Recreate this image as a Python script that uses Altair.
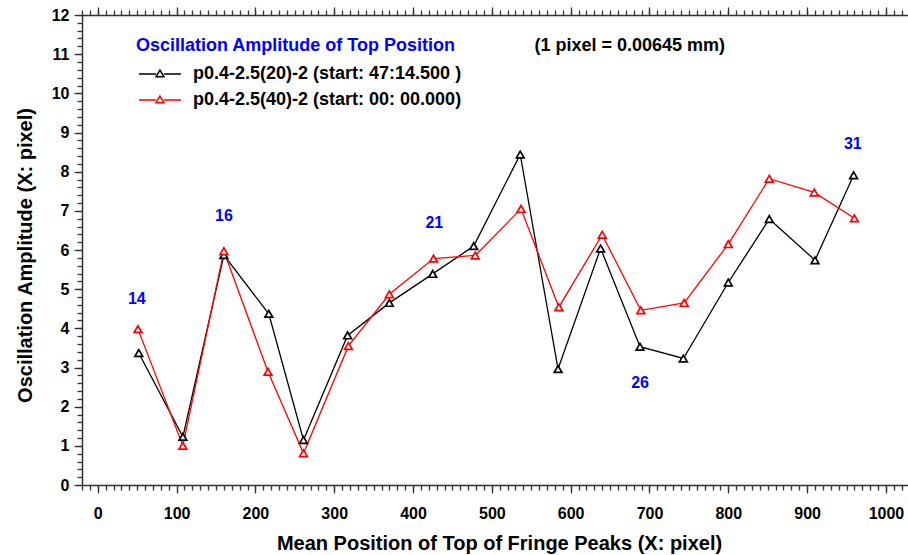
import altair as alt
import pandas as pd

series_names = ["p0.4-2.5(20)-2 (start: 47:14.500 )", "p0.4-2.5(40)-2 (start: 00: 00.000)"]
series_colors = ["#000000", "#ff0000"]

x_black = [52, 108, 160, 217, 261, 317, 370, 425, 477, 536, 584, 638, 688, 743, 800, 852, 910, 959]
y_black = [3.37, 1.23, 5.87, 4.37, 1.15, 3.82, 4.65, 5.39, 6.10, 8.44, 2.96, 6.04, 3.53, 3.23, 5.17, 6.79, 5.74, 7.91]
x_red = [51, 108, 160, 216, 261, 318, 370, 426, 479, 537, 585, 640, 689, 744, 800, 852, 909, 960]
y_red = [3.98, 1.00, 5.97, 2.89, 0.81, 3.55, 4.87, 5.78, 5.86, 7.05, 4.54, 6.39, 4.46, 4.65, 6.15, 7.82, 7.47, 6.81]

label_texts = ["14", "16", "21", "26", "31"]
label_x = [49.5, 160, 427, 688, 958]
label_y = [4.75, 6.87, 6.69, 2.6, 8.71]

note_text = ["(1 pixel = 0.00645 mm)"]
note_x = [675]
note_y = [11.21]

x_major = list(range(0, 1001, 100))
x_minor = list(range(-20, 1021, 10))
y_major = list(range(0, 13))
y_minor = [i / 5 for i in range(61)]

legend_title = "Oscillation Amplitude of Top Position"
x_title = "Mean Position of Top of Fringe Peaks (X: pixel)"
y_title = "Oscillation Amplitude (X: pixel)"

FONT = "Liberation Sans"
AX = "#333333"

df = pd.DataFrame({
    "x": x_black + x_red,
    "y": y_black + y_red,
    "series": [series_names[0]] * len(x_black) + [series_names[1]] * len(x_red),
})
labels_df = pd.DataFrame({"x": label_x, "y": label_y, "t": label_texts})
note_df = pd.DataFrame({"x": note_x, "y": note_y, "t": note_text})

xs = alt.Scale(domain=[-20, 1028], nice=False, zero=False)
ys = alt.Scale(domain=[0, 12], nice=False, zero=False)
cs = alt.Scale(domain=series_names, range=series_colors)

common_axis = dict(grid=False, domainColor=AX, tickColor=AX, domainWidth=1.5, tickWidth=1.3)

legend_path = ("M-0.86,0H1.57M2.71,0H5.14"
               "M2.14,-0.56L2.71,0.4L1.57,0.4Z")

lines = alt.Chart(df).mark_line(strokeWidth=1.3).encode(
    x=alt.X("x:Q", scale=xs, axis=alt.Axis(
        orient="bottom", values=x_major, tickSize=8, labelFontSize=16, labelFontWeight="bold",
        labelColor="black", labelPadding=12, labelFlush=False, labelOverlap=False,
        title=x_title, titleFontSize=20, titleFontWeight="bold", titleColor="black",
        titleX=417, titleY=58, titleBaseline="middle", titleAnchor="middle",
        format="d", **common_axis)),
    y=alt.Y("y:Q", scale=ys, axis=alt.Axis(
        orient="left", values=y_major, tickSize=8, labelFontSize=16, labelFontWeight="bold",
        labelColor="black", labelPadding=5, labelFlush=False, labelOverlap=False,
        title=y_title, titleFontSize=20, titleFontWeight="bold", titleColor="black",
        titleX=-57, titleY=240, titleBaseline="middle", titleAngle=270,
        format="d", **common_axis)),
    color=alt.Color("series:N", scale=cs, legend=alt.Legend(
        orient="none", legendX=54, legendY=22, padding=0,
        title=legend_title, titleColor="blue", titleFontSize=18, titleFontWeight="bold",
        titlePadding=10, titleLimit=600,
        labelFontSize=18, labelFontWeight="bold", labelColor="black", labelOffset=39, labelLimit=600,
        symbolType=legend_path, symbolSize=196, symbolStrokeWidth=1.5, symbolFillColor="white",
        rowPadding=8)),
)

points = alt.Chart(df).mark_point(shape="triangle-up", size=60, filled=True, fill="white",
                                  opacity=1, strokeWidth=1.7).encode(
    x=alt.X("x:Q", scale=xs, axis=alt.Axis(
        orient="bottom", values=x_minor, tickSize=5, labels=False, domain=False, title=None, **common_axis)),
    y=alt.Y("y:Q", scale=ys, axis=alt.Axis(
        orient="left", values=y_minor, tickSize=5, labels=False, domain=False, title=None, **common_axis)),
    stroke=alt.Stroke("series:N", scale=cs, legend=None),
)

num_labels = alt.Chart(labels_df).mark_text(color="blue", fontSize=16, fontWeight="bold", font=FONT).encode(
    x=alt.X("x:Q", scale=xs, axis=alt.Axis(
        orient="top", values=x_major, tickSize=8, labels=False, title=None, **common_axis)),
    y=alt.Y("y:Q", scale=ys, axis=None),
    text="t:N",
)

note = alt.Chart(note_df).mark_text(color="black", fontSize=18, fontWeight="bold", font=FONT).encode(
    x=alt.X("x:Q", scale=xs, axis=alt.Axis(
        orient="top", values=x_minor, tickSize=5, labels=False, domain=False, title=None, **common_axis)),
    y=alt.Y("y:Q", scale=ys, axis=None),
    text="t:N",
)

chart = alt.layer(lines, points, num_labels, note).resolve_axis(
    x="independent", y="independent"
).properties(
    width=826, height=470,
    padding={"left": 82, "top": 15, "right": 0, "bottom": 70},
    autosize="none",
).configure(font=FONT).configure_view(stroke=None)

chart.save("out.html", embed_options={"renderer": "svg", "actions": False})
